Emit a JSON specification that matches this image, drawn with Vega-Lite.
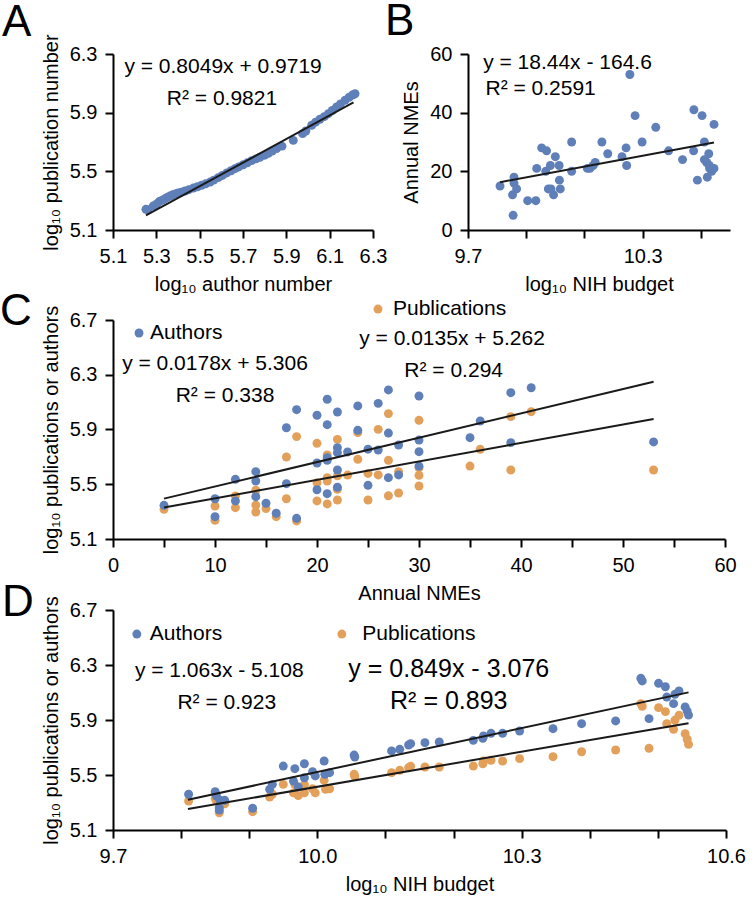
{
  "$schema": "https://vega.github.io/schema/vega-lite/v6.json",
  "background": "white",
  "padding": {"left": 0, "top": 0, "right": 5, "bottom": 5},
  "config": {
    "font": "Liberation Sans",
    "view": {"stroke": null},
    "axis": {"domainColor": "#000", "domainWidth": 2, "tickColor": "#000", "tickWidth": 2, "tickSize": 8, "labelFontSize": 20, "labelColor": "#000", "titleFontSize": 20, "titleFontWeight": "normal", "titleColor": "#000", "grid": false, "labelFlush": false, "labelOverlap": false, "labelPadding": 8, "titlePadding": 8},
    "title": {"fontSize": 44, "fontWeight": "normal", "color": "#000", "anchor": "start", "frame": "group", "offset": 0, "baseline": "alphabetic"},
    "text": {"color": "#000", "font": "Liberation Sans"}
  },
  "datasets": {
    "A_points": [
      {"x": 5.252, "y": 5.241}, {"x": 5.262, "y": 5.238}, {"x": 5.286, "y": 5.264}, {"x": 5.300, "y": 5.275}, {"x": 5.312, "y": 5.292}, {"x": 5.325, "y": 5.302}, {"x": 5.338, "y": 5.312}, {"x": 5.350, "y": 5.322}, {"x": 5.363, "y": 5.332}, {"x": 5.375, "y": 5.340}, {"x": 5.390, "y": 5.348}, {"x": 5.401, "y": 5.352}, {"x": 5.415, "y": 5.358}, {"x": 5.432, "y": 5.366}, {"x": 5.450, "y": 5.375}, {"x": 5.471, "y": 5.386}, {"x": 5.490, "y": 5.395}, {"x": 5.509, "y": 5.405}, {"x": 5.528, "y": 5.415}, {"x": 5.548, "y": 5.427}, {"x": 5.565, "y": 5.440}, {"x": 5.586, "y": 5.457}, {"x": 5.605, "y": 5.472}, {"x": 5.625, "y": 5.489}, {"x": 5.645, "y": 5.504}, {"x": 5.663, "y": 5.518}, {"x": 5.680, "y": 5.530}, {"x": 5.701, "y": 5.545}, {"x": 5.720, "y": 5.558}, {"x": 5.740, "y": 5.573}, {"x": 5.760, "y": 5.585}, {"x": 5.778, "y": 5.596}, {"x": 5.800, "y": 5.610}, {"x": 5.817, "y": 5.623}, {"x": 5.835, "y": 5.638}, {"x": 5.855, "y": 5.655}, {"x": 5.880, "y": 5.672}, {"x": 5.932, "y": 5.711}, {"x": 5.975, "y": 5.757}, {"x": 5.990, "y": 5.775}, {"x": 6.017, "y": 5.814}, {"x": 6.035, "y": 5.835}, {"x": 6.055, "y": 5.855}, {"x": 6.075, "y": 5.873}, {"x": 6.094, "y": 5.893}, {"x": 6.112, "y": 5.915}, {"x": 6.132, "y": 5.939}, {"x": 6.150, "y": 5.960}, {"x": 6.171, "y": 5.984}, {"x": 6.190, "y": 6.005}, {"x": 6.205, "y": 6.020}, {"x": 6.217, "y": 6.029}
    ],
    "A_fit": [{"x": 5.252, "y": 5.199}, {"x": 6.21, "y": 5.970}],
    "A_text": [{"x": 5.608, "y": 6.211, "label": "y = 0.8049x + 0.9719"}, {"x": 5.603, "y": 5.993, "label": "R² = 0.9821"}],
    "B_points": [
      {"x": 9.810, "y": 15}, {"x": 9.858, "y": 18}, {"x": 9.858, "y": 16}, {"x": 9.867, "y": 14}, {"x": 9.853, "y": 12}, {"x": 9.855, "y": 5}, {"x": 9.905, "y": 10}, {"x": 9.933, "y": 10}, {"x": 9.936, "y": 21}, {"x": 9.953, "y": 28}, {"x": 9.970, "y": 27}, {"x": 9.967, "y": 20}, {"x": 9.983, "y": 22}, {"x": 9.976, "y": 14}, {"x": 9.985, "y": 14}, {"x": 9.994, "y": 12}, {"x": 10.000, "y": 25}, {"x": 10.013, "y": 22}, {"x": 10.014, "y": 17}, {"x": 10.017, "y": 14}, {"x": 10.056, "y": 30}, {"x": 10.056, "y": 20}, {"x": 10.110, "y": 21}, {"x": 10.119, "y": 21}, {"x": 10.130, "y": 22}, {"x": 10.137, "y": 23}, {"x": 10.160, "y": 30}, {"x": 10.180, "y": 26}, {"x": 10.229, "y": 25}, {"x": 10.243, "y": 28}, {"x": 10.245, "y": 22}, {"x": 10.256, "y": 53}, {"x": 10.274, "y": 39}, {"x": 10.298, "y": 30}, {"x": 10.345, "y": 35}, {"x": 10.389, "y": 27}, {"x": 10.437, "y": 24}, {"x": 10.476, "y": 41}, {"x": 10.475, "y": 27}, {"x": 10.488, "y": 17}, {"x": 10.504, "y": 39}, {"x": 10.512, "y": 30}, {"x": 10.512, "y": 24}, {"x": 10.520, "y": 23}, {"x": 10.522, "y": 18}, {"x": 10.527, "y": 26}, {"x": 10.529, "y": 22}, {"x": 10.530, "y": 21}, {"x": 10.537, "y": 20}, {"x": 10.545, "y": 21}, {"x": 10.545, "y": 36}
    ],
    "B_fit": [{"x": 9.81, "y": 16.30}, {"x": 10.545, "y": 29.85}],
    "B_text": [{"x": 9.752, "y": 56.9, "label": "y = 18.44x - 164.6"}, {"x": 9.760, "y": 48.0, "label": "R² = 0.2591"}],
    "C_points": [
      {"series": "Publications", "x": 5, "y": 5.317}, {"series": "Publications", "x": 10, "y": 5.341}, {"series": "Publications", "x": 10, "y": 5.237}, {"series": "Publications", "x": 12, "y": 5.414}, {"series": "Publications", "x": 12, "y": 5.329}, {"series": "Publications", "x": 14, "y": 5.456}, {"series": "Publications", "x": 14, "y": 5.348}, {"series": "Publications", "x": 14, "y": 5.297}, {"series": "Publications", "x": 15, "y": 5.322}, {"series": "Publications", "x": 16, "y": 5.263}, {"series": "Publications", "x": 17, "y": 5.699}, {"series": "Publications", "x": 17, "y": 5.394}, {"series": "Publications", "x": 18, "y": 5.848}, {"series": "Publications", "x": 18, "y": 5.232}, {"series": "Publications", "x": 20, "y": 5.799}, {"series": "Publications", "x": 20, "y": 5.511}, {"series": "Publications", "x": 20, "y": 5.378}, {"series": "Publications", "x": 21, "y": 5.714}, {"series": "Publications", "x": 21, "y": 5.548}, {"series": "Publications", "x": 21, "y": 5.524}, {"series": "Publications", "x": 21, "y": 5.356}, {"series": "Publications", "x": 22, "y": 5.828}, {"series": "Publications", "x": 22, "y": 5.561}, {"series": "Publications", "x": 22, "y": 5.463}, {"series": "Publications", "x": 22, "y": 5.385}, {"series": "Publications", "x": 23, "y": 5.567}, {"series": "Publications", "x": 24, "y": 5.877}, {"series": "Publications", "x": 24, "y": 5.682}, {"series": "Publications", "x": 25, "y": 5.579}, {"series": "Publications", "x": 25, "y": 5.385}, {"series": "Publications", "x": 26, "y": 5.901}, {"series": "Publications", "x": 26, "y": 5.568}, {"series": "Publications", "x": 27, "y": 6.016}, {"series": "Publications", "x": 27, "y": 5.675}, {"series": "Publications", "x": 27, "y": 5.416}, {"series": "Publications", "x": 28, "y": 5.592}, {"series": "Publications", "x": 28, "y": 5.436}, {"series": "Publications", "x": 30, "y": 5.967}, {"series": "Publications", "x": 30, "y": 5.620}, {"series": "Publications", "x": 30, "y": 5.565}, {"series": "Publications", "x": 30, "y": 5.487}, {"series": "Publications", "x": 35, "y": 5.633}, {"series": "Publications", "x": 36, "y": 5.755}, {"series": "Publications", "x": 39, "y": 5.994}, {"series": "Publications", "x": 39, "y": 5.604}, {"series": "Publications", "x": 41, "y": 6.030}, {"series": "Publications", "x": 53, "y": 5.604},
      {"series": "Authors", "x": 5, "y": 5.346}, {"series": "Authors", "x": 10, "y": 5.394}, {"series": "Authors", "x": 10, "y": 5.263}, {"series": "Authors", "x": 12, "y": 5.536}, {"series": "Authors", "x": 12, "y": 5.378}, {"series": "Authors", "x": 14, "y": 5.592}, {"series": "Authors", "x": 14, "y": 5.524}, {"series": "Authors", "x": 14, "y": 5.409}, {"series": "Authors", "x": 15, "y": 5.361}, {"series": "Authors", "x": 16, "y": 5.288}, {"series": "Authors", "x": 17, "y": 5.913}, {"series": "Authors", "x": 17, "y": 5.504}, {"series": "Authors", "x": 18, "y": 6.045}, {"series": "Authors", "x": 18, "y": 5.251}, {"series": "Authors", "x": 20, "y": 6.004}, {"series": "Authors", "x": 20, "y": 5.655}, {"series": "Authors", "x": 20, "y": 5.460}, {"series": "Authors", "x": 21, "y": 6.121}, {"series": "Authors", "x": 21, "y": 5.935}, {"series": "Authors", "x": 21, "y": 5.694}, {"series": "Authors", "x": 21, "y": 5.675}, {"series": "Authors", "x": 21, "y": 5.431}, {"series": "Authors", "x": 22, "y": 6.028}, {"series": "Authors", "x": 22, "y": 5.767}, {"series": "Authors", "x": 22, "y": 5.731}, {"series": "Authors", "x": 22, "y": 5.604}, {"series": "Authors", "x": 22, "y": 5.478}, {"series": "Authors", "x": 23, "y": 5.736}, {"series": "Authors", "x": 24, "y": 6.072}, {"series": "Authors", "x": 24, "y": 5.894}, {"series": "Authors", "x": 25, "y": 5.756}, {"series": "Authors", "x": 25, "y": 5.492}, {"series": "Authors", "x": 26, "y": 6.091}, {"series": "Authors", "x": 26, "y": 5.750}, {"series": "Authors", "x": 27, "y": 6.189}, {"series": "Authors", "x": 27, "y": 5.874}, {"series": "Authors", "x": 27, "y": 5.548}, {"series": "Authors", "x": 28, "y": 5.787}, {"series": "Authors", "x": 28, "y": 5.568}, {"series": "Authors", "x": 30, "y": 6.145}, {"series": "Authors", "x": 30, "y": 5.823}, {"series": "Authors", "x": 30, "y": 5.738}, {"series": "Authors", "x": 30, "y": 5.633}, {"series": "Authors", "x": 35, "y": 5.840}, {"series": "Authors", "x": 36, "y": 5.962}, {"series": "Authors", "x": 39, "y": 6.169}, {"series": "Authors", "x": 39, "y": 5.804}, {"series": "Authors", "x": 41, "y": 6.205}, {"series": "Authors", "x": 53, "y": 5.809}
    ],
    "C_fit": [{"series": "Authors", "x": 5, "y": 5.395}, {"series": "Authors", "x": 53, "y": 6.249}, {"series": "Publications", "x": 5, "y": 5.3295}, {"series": "Publications", "x": 53, "y": 5.9775}],
    "C_legend": [{"series": "Authors", "x": 2.55, "y": 6.605}, {"series": "Publications", "x": 25.98, "y": 6.78}],
    "C_legtext": [{"x": 3.63, "y": 6.605, "label": "Authors"}, {"x": 27.45, "y": 6.78, "label": "Publications"}],
    "C_text": [{"x": 10.0, "y": 6.379, "label": "y = 0.0178x + 5.306"}, {"x": 10.98, "y": 6.145, "label": "R² = 0.338"}, {"x": 33.24, "y": 6.561, "label": "y = 0.0135x + 5.262"}, {"x": 33.4, "y": 6.327, "label": "R² = 0.294"}],
    "D_points": [
      {"series": "Publications", "x": 9.811, "y": 5.311}, {"series": "Publications", "x": 9.850, "y": 5.330}, {"series": "Publications", "x": 9.852, "y": 5.310}, {"series": "Publications", "x": 9.857, "y": 5.290}, {"series": "Publications", "x": 9.864, "y": 5.290}, {"series": "Publications", "x": 9.856, "y": 5.232}, {"series": "Publications", "x": 9.856, "y": 5.225}, {"series": "Publications", "x": 9.905, "y": 5.233}, {"series": "Publications", "x": 9.930, "y": 5.340}, {"series": "Publications", "x": 9.934, "y": 5.360}, {"series": "Publications", "x": 9.950, "y": 5.432}, {"series": "Publications", "x": 9.965, "y": 5.370}, {"series": "Publications", "x": 9.967, "y": 5.430}, {"series": "Publications", "x": 9.972, "y": 5.350}, {"series": "Publications", "x": 9.981, "y": 5.430}, {"series": "Publications", "x": 9.981, "y": 5.370}, {"series": "Publications", "x": 9.993, "y": 5.400}, {"series": "Publications", "x": 9.997, "y": 5.370}, {"series": "Publications", "x": 10.010, "y": 5.461}, {"series": "Publications", "x": 10.012, "y": 5.396}, {"series": "Publications", "x": 10.018, "y": 5.400}, {"series": "Publications", "x": 10.054, "y": 5.505}, {"series": "Publications", "x": 10.055, "y": 5.490}, {"series": "Publications", "x": 10.109, "y": 5.517}, {"series": "Publications", "x": 10.121, "y": 5.534}, {"series": "Publications", "x": 10.134, "y": 5.553}, {"series": "Publications", "x": 10.137, "y": 5.563}, {"series": "Publications", "x": 10.158, "y": 5.558}, {"series": "Publications", "x": 10.179, "y": 5.558}, {"series": "Publications", "x": 10.229, "y": 5.565}, {"series": "Publications", "x": 10.243, "y": 5.582}, {"series": "Publications", "x": 10.244, "y": 5.602}, {"series": "Publications", "x": 10.255, "y": 5.607}, {"series": "Publications", "x": 10.272, "y": 5.602}, {"series": "Publications", "x": 10.297, "y": 5.619}, {"series": "Publications", "x": 10.346, "y": 5.633}, {"series": "Publications", "x": 10.388, "y": 5.669}, {"series": "Publications", "x": 10.438, "y": 5.682}, {"series": "Publications", "x": 10.475, "y": 6.019}, {"series": "Publications", "x": 10.477, "y": 6.000}, {"series": "Publications", "x": 10.487, "y": 5.694}, {"series": "Publications", "x": 10.501, "y": 5.990}, {"series": "Publications", "x": 10.511, "y": 5.961}, {"series": "Publications", "x": 10.513, "y": 5.873}, {"series": "Publications", "x": 10.523, "y": 5.832}, {"series": "Publications", "x": 10.525, "y": 5.898}, {"series": "Publications", "x": 10.531, "y": 5.934}, {"series": "Publications", "x": 10.540, "y": 5.800}, {"series": "Publications", "x": 10.543, "y": 5.760}, {"series": "Publications", "x": 10.545, "y": 5.723},
      {"series": "Authors", "x": 9.811, "y": 5.360}, {"series": "Authors", "x": 9.850, "y": 5.379}, {"series": "Authors", "x": 9.852, "y": 5.347}, {"series": "Authors", "x": 9.857, "y": 5.316}, {"series": "Authors", "x": 9.864, "y": 5.316}, {"series": "Authors", "x": 9.856, "y": 5.262}, {"series": "Authors", "x": 9.856, "y": 5.245}, {"series": "Authors", "x": 9.905, "y": 5.258}, {"series": "Authors", "x": 9.930, "y": 5.396}, {"series": "Authors", "x": 9.934, "y": 5.432}, {"series": "Authors", "x": 9.950, "y": 5.565}, {"series": "Authors", "x": 9.965, "y": 5.456}, {"series": "Authors", "x": 9.967, "y": 5.546}, {"series": "Authors", "x": 9.972, "y": 5.413}, {"series": "Authors", "x": 9.981, "y": 5.582}, {"series": "Authors", "x": 9.981, "y": 5.480}, {"series": "Authors", "x": 9.993, "y": 5.524}, {"series": "Authors", "x": 9.997, "y": 5.493}, {"series": "Authors", "x": 10.010, "y": 5.602}, {"series": "Authors", "x": 10.011, "y": 5.505}, {"series": "Authors", "x": 10.018, "y": 5.517}, {"series": "Authors", "x": 10.054, "y": 5.645}, {"series": "Authors", "x": 10.055, "y": 5.631}, {"series": "Authors", "x": 10.109, "y": 5.675}, {"series": "Authors", "x": 10.121, "y": 5.687}, {"series": "Authors", "x": 10.134, "y": 5.718}, {"series": "Authors", "x": 10.137, "y": 5.728}, {"series": "Authors", "x": 10.158, "y": 5.735}, {"series": "Authors", "x": 10.179, "y": 5.740}, {"series": "Authors", "x": 10.229, "y": 5.752}, {"series": "Authors", "x": 10.243, "y": 5.767}, {"series": "Authors", "x": 10.244, "y": 5.784}, {"series": "Authors", "x": 10.255, "y": 5.803}, {"series": "Authors", "x": 10.272, "y": 5.803}, {"series": "Authors", "x": 10.297, "y": 5.820}, {"series": "Authors", "x": 10.346, "y": 5.837}, {"series": "Authors", "x": 10.388, "y": 5.873}, {"series": "Authors", "x": 10.438, "y": 5.893}, {"series": "Authors", "x": 10.475, "y": 6.203}, {"series": "Authors", "x": 10.477, "y": 6.184}, {"series": "Authors", "x": 10.487, "y": 5.910}, {"series": "Authors", "x": 10.501, "y": 6.167}, {"series": "Authors", "x": 10.511, "y": 6.142}, {"series": "Authors", "x": 10.513, "y": 6.067}, {"series": "Authors", "x": 10.523, "y": 6.019}, {"series": "Authors", "x": 10.525, "y": 6.087}, {"series": "Authors", "x": 10.531, "y": 6.111}, {"series": "Authors", "x": 10.540, "y": 5.995}, {"series": "Authors", "x": 10.543, "y": 5.965}, {"series": "Authors", "x": 10.545, "y": 5.936}
    ],
    "D_fit": [{"series": "Authors", "x": 9.81, "y": 5.320}, {"series": "Authors", "x": 10.545, "y": 6.101}, {"series": "Publications", "x": 9.81, "y": 5.253}, {"series": "Publications", "x": 10.545, "y": 5.877}],
    "D_legend": [{"series": "Authors", "x": 9.735, "y": 6.525}, {"series": "Publications", "x": 10.036, "y": 6.525}],
    "D_legtext": [{"x": 9.754, "y": 6.525, "label": "Authors"}, {"x": 10.066, "y": 6.525, "label": "Publications"}],
    "D_text": [{"x": 9.856, "y": 6.256, "label": "y = 1.063x - 5.108"}, {"x": 9.867, "y": 6.024, "label": "R² = 0.923"}],
    "D_bigtext": [{"x": 10.193, "y": 6.271, "label": "y = 0.849x - 3.076"}, {"x": 10.193, "y": 6.038, "label": "R² = 0.893"}]
  },
  "vconcat": [
    {
      "hconcat": [
        {
          "width": 260, "height": 176,
          "title": {"text": "A", "dx": -111, "dy": 15},
          "layer": [
            {"data": {"name": "A_points"}, "mark": {"type": "circle", "size": 80, "color": "#5f7fb8", "opacity": 1},
             "encoding": {
               "x": {"field": "x", "type": "quantitative", "scale": {"domain": [5.1, 6.3], "nice": false, "zero": false},
                     "axis": {"title": "log₁₀ author number", "values": [5.1, 5.2, 5.3, 5.4, 5.5, 5.6, 5.7, 5.8, 5.9, 6.0, 6.1, 6.2, 6.3], "labelExpr": "round(datum.value*10) % 2 == 1 ? format(datum.value, '.1f') : ''"}},
               "y": {"field": "y", "type": "quantitative", "scale": {"domain": [5.1, 6.3], "nice": false, "zero": false},
                     "axis": {"title": "log₁₀ publication number", "values": [5.1, 5.2, 5.3, 5.4, 5.5, 5.6, 5.7, 5.8, 5.9, 6.0, 6.1, 6.2, 6.3], "labelExpr": "round(datum.value*10) % 2 == 1 ? format(datum.value, '.1f') : ''"}}
             }},
            {"data": {"name": "A_fit"}, "mark": {"type": "line", "color": "#1a1a1a", "strokeWidth": 2},
             "encoding": {"x": {"field": "x", "type": "quantitative"}, "y": {"field": "y", "type": "quantitative"}}},
            {"data": {"name": "A_text"}, "mark": {"type": "text", "fontSize": 21, "align": "center", "baseline": "middle"},
             "encoding": {"x": {"field": "x", "type": "quantitative"}, "y": {"field": "y", "type": "quantitative"}, "text": {"field": "label"}}}
          ]
        },
        {
          "width": 262, "height": 176,
          "title": {"text": "B", "dx": -83, "dy": 4},
          "layer": [
            {"data": {"name": "B_points"}, "mark": {"type": "circle", "size": 80, "color": "#5f7fb8", "opacity": 1},
             "encoding": {
               "x": {"field": "x", "type": "quantitative", "scale": {"domain": [9.7, 10.6], "nice": false, "zero": false},
                     "axis": {"title": "log₁₀ NIH budget", "values": [9.7, 9.8, 9.9, 10.0, 10.1, 10.2, 10.3, 10.4, 10.5, 10.6], "labelExpr": "round(datum.value*10) % 3 == 1 ? format(datum.value, '.1f') : ''"}},
               "y": {"field": "y", "type": "quantitative", "scale": {"domain": [0, 60], "nice": false},
                     "axis": {"title": "Annual NMEs", "values": [0, 10, 20, 30, 40, 50, 60], "format": "d"}}
             }},
            {"data": {"name": "B_fit"}, "mark": {"type": "line", "color": "#1a1a1a", "strokeWidth": 2},
             "encoding": {"x": {"field": "x", "type": "quantitative"}, "y": {"field": "y", "type": "quantitative"}}},
            {"data": {"name": "B_text"}, "mark": {"type": "text", "fontSize": 21, "align": "left", "baseline": "middle"},
             "encoding": {"x": {"field": "x", "type": "quantitative"}, "y": {"field": "y", "type": "quantitative"}, "text": {"field": "label"}}}
          ]
        }
      ],
      "spacing": 95,
      "bounds": "flush"
    },
    {
      "vconcat": [
        {
          "width": 612, "height": 219,
          "title": {"text": "C", "dx": -113, "dy": 40},
          "layer": [
            {"data": {"name": "C_points"}, "mark": {"type": "circle", "size": 80, "opacity": 1},
             "encoding": {
               "x": {"field": "x", "type": "quantitative", "scale": {"domain": [0, 60], "nice": false},
                     "axis": {"title": "Annual NMEs", "values": [0, 5, 10, 15, 20, 25, 30, 35, 40, 45, 50, 55, 60], "labelExpr": "datum.value % 10 == 0 ? format(datum.value, 'd') : ''"}},
               "y": {"field": "y", "type": "quantitative", "scale": {"domain": [5.1, 6.7], "nice": false, "zero": false},
                     "axis": {"title": "log₁₀ publications or authors", "values": [5.1, 5.2, 5.3, 5.4, 5.5, 5.6, 5.7, 5.8, 5.9, 6.0, 6.1, 6.2, 6.3, 6.4, 6.5, 6.6, 6.7], "labelExpr": "round(datum.value*10) % 4 == 3 ? format(datum.value, '.1f') : ''"}},
               "color": {"field": "series", "type": "nominal", "scale": {"domain": ["Authors", "Publications"], "range": ["#5f7fb8", "#e2a05a"]}, "legend": null}
             }},
            {"data": {"name": "C_fit"}, "mark": {"type": "line", "color": "#1a1a1a", "strokeWidth": 2},
             "encoding": {"x": {"field": "x", "type": "quantitative"}, "y": {"field": "y", "type": "quantitative"}, "detail": {"field": "series"}}},
            {"data": {"name": "C_legend"}, "mark": {"type": "circle", "size": 80, "opacity": 1},
             "encoding": {"x": {"field": "x", "type": "quantitative"}, "y": {"field": "y", "type": "quantitative"}, "color": {"field": "series", "type": "nominal"}}},
            {"data": {"name": "C_legtext"}, "mark": {"type": "text", "fontSize": 21, "align": "left", "baseline": "middle"},
             "encoding": {"x": {"field": "x", "type": "quantitative"}, "y": {"field": "y", "type": "quantitative"}, "text": {"field": "label"}}},
            {"data": {"name": "C_text"}, "mark": {"type": "text", "fontSize": 21, "align": "center", "baseline": "middle"},
             "encoding": {"x": {"field": "x", "type": "quantitative"}, "y": {"field": "y", "type": "quantitative"}, "text": {"field": "label"}}}
          ]
        },
        {
          "width": 613, "height": 220,
          "title": {"text": "D", "dx": -111, "dy": 33},
          "layer": [
            {"data": {"name": "D_points"}, "mark": {"type": "circle", "size": 80, "opacity": 1},
             "encoding": {
               "x": {"field": "x", "type": "quantitative", "scale": {"domain": [9.7, 10.6], "nice": false, "zero": false},
                     "axis": {"title": "log₁₀ NIH budget", "values": [9.7, 9.8, 9.9, 10.0, 10.1, 10.2, 10.3, 10.4, 10.5, 10.6], "labelExpr": "round(datum.value*10) % 3 == 1 ? format(datum.value, '.1f') : ''"}},
               "y": {"field": "y", "type": "quantitative", "scale": {"domain": [5.1, 6.7], "nice": false, "zero": false},
                     "axis": {"title": "log₁₀ publications or authors", "values": [5.1, 5.2, 5.3, 5.4, 5.5, 5.6, 5.7, 5.8, 5.9, 6.0, 6.1, 6.2, 6.3, 6.4, 6.5, 6.6, 6.7], "labelExpr": "round(datum.value*10) % 4 == 3 ? format(datum.value, '.1f') : ''"}},
               "color": {"field": "series", "type": "nominal", "scale": {"domain": ["Authors", "Publications"], "range": ["#5f7fb8", "#e2a05a"]}, "legend": null}
             }},
            {"data": {"name": "D_fit"}, "mark": {"type": "line", "color": "#1a1a1a", "strokeWidth": 2},
             "encoding": {"x": {"field": "x", "type": "quantitative"}, "y": {"field": "y", "type": "quantitative"}, "detail": {"field": "series"}}},
            {"data": {"name": "D_legend"}, "mark": {"type": "circle", "size": 80, "opacity": 1},
             "encoding": {"x": {"field": "x", "type": "quantitative"}, "y": {"field": "y", "type": "quantitative"}, "color": {"field": "series", "type": "nominal"}}},
            {"data": {"name": "D_legtext"}, "mark": {"type": "text", "fontSize": 21, "align": "left", "baseline": "middle"},
             "encoding": {"x": {"field": "x", "type": "quantitative"}, "y": {"field": "y", "type": "quantitative"}, "text": {"field": "label"}}},
            {"data": {"name": "D_text"}, "mark": {"type": "text", "fontSize": 21, "align": "center", "baseline": "middle"},
             "encoding": {"x": {"field": "x", "type": "quantitative"}, "y": {"field": "y", "type": "quantitative"}, "text": {"field": "label"}}},
            {"data": {"name": "D_bigtext"}, "mark": {"type": "text", "fontSize": 25, "align": "center", "baseline": "middle"},
             "encoding": {"x": {"field": "x", "type": "quantitative"}, "y": {"field": "y", "type": "quantitative"}, "text": {"field": "label"}}}
          ]
        }
      ],
      "spacing": 71,
      "bounds": "flush"
    }
  ],
  "spacing": -4,
  "bounds": "full"
}
